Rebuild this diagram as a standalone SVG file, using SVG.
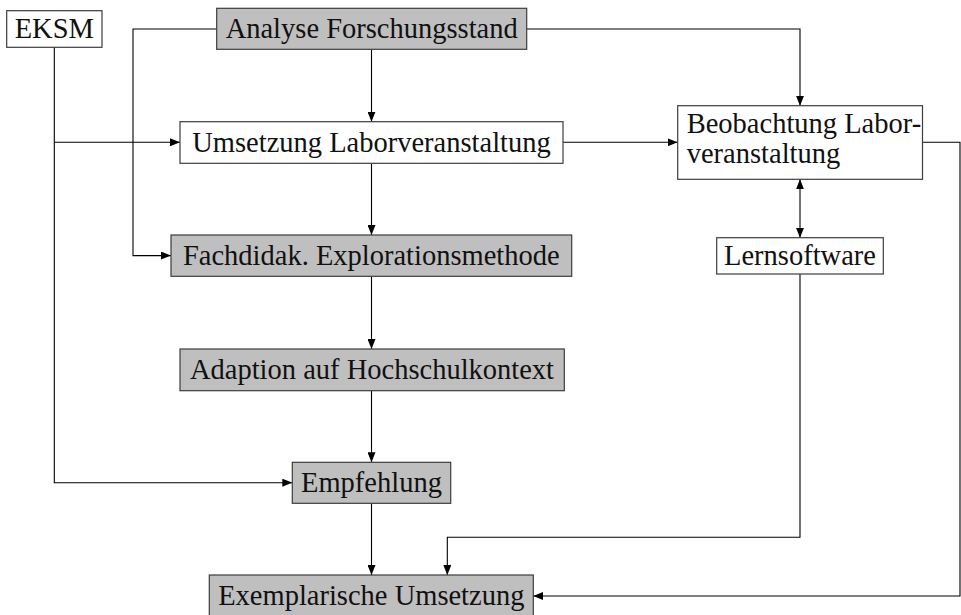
<svg xmlns="http://www.w3.org/2000/svg" width="961" height="615" viewBox="0 0 961 615">
  <style>
    .box { stroke: #3c3c3c; stroke-width: 1.2; }
    .white { fill: #ffffff; }
    .gray { fill: #bfbfbf; }
    .lbl { font-family: "Liberation Serif", "DejaVu Serif", serif; font-size: 28.5px; fill: #111111; }
    .mid { text-anchor: middle; }
    .wire { fill: none; stroke: #000000; stroke-width: 1.1; }
    .arr { marker-end: url(#tip); }
  </style>
  <defs>
    <marker id="tip" viewBox="0 0 10 8" refX="10" refY="4" markerWidth="10" markerHeight="8" markerUnits="userSpaceOnUse" orient="auto">
      <path d="M0,0 L10,4 L0,8 Z" fill="#000000"/>
    </marker>
    <marker id="tail" viewBox="0 0 10 8" refX="10" refY="4" markerWidth="10" markerHeight="8" markerUnits="userSpaceOnUse" orient="auto-start-reverse">
      <path d="M0,0 L10,4 L0,8 Z" fill="#000000"/>
    </marker>
  </defs>
  <rect width="961" height="615" fill="#ffffff"/>

  <g id="connectors">
    <!-- EKSM trunk down to Empfehlung, branch to Umsetzung -->
    <path class="wire arr" d="M54.3,47.3 V482.7 H292.3"/>
    <path class="wire arr" d="M54.3,142.3 H180"/>
    <!-- Analyse Forschungsstand outputs -->
    <path class="wire arr" d="M216.7,29 H133 V255.6 H171"/>
    <path class="wire arr" d="M371.5,49.3 V121.7"/>
    <path class="wire arr" d="M526.7,29 H800 V105.7"/>
    <!-- main column -->
    <path class="wire arr" d="M563,142.3 H677.7"/>
    <path class="wire arr" d="M371.5,163.3 V235"/>
    <path class="wire arr" d="M371.5,276.3 V349"/>
    <path class="wire arr" d="M371.5,390.7 V462.3"/>
    <path class="wire arr" d="M371.5,503.3 V575"/>
    <!-- Beobachtung and Lernsoftware -->
    <path class="wire" d="M800,179.3 V237.7" marker-start="url(#tail)" marker-end="url(#tip)"/>
    <path class="wire arr" d="M800,274 V537.3 H447.3 V575"/>
    <path class="wire arr" d="M922.5,142.3 H960 V596 H533.3"/>
  </g>

  <g id="eksm">
    <rect class="box white" x="6.7" y="10.7" width="95.3" height="36.6"/>
    <text class="lbl mid" x="54.3" y="38.3">EKSM</text>
  </g>
  <g id="analyse">
    <rect class="box gray" x="216.7" y="8.3" width="310" height="41"/>
    <text class="lbl mid" x="371.7" y="38">Analyse Forschungsstand</text>
  </g>
  <g id="umsetzung">
    <rect class="box white" x="180" y="121.7" width="383" height="41.6"/>
    <text class="lbl mid" x="371.5" y="151.7">Umsetzung Laborveranstaltung</text>
  </g>
  <g id="beobachtung">
    <rect class="box white" x="677.7" y="105.7" width="244.8" height="73.6"/>
    <text class="lbl" x="686.7" y="133.3">Beobachtung Labor-</text>
    <text class="lbl" x="686.7" y="163.3">veranstaltung</text>
  </g>
  <g id="fachdidak">
    <rect class="box gray" x="171" y="235" width="400.7" height="41.3"/>
    <text class="lbl mid" x="371.3" y="264.8">Fachdidak. Explorationsmethode</text>
  </g>
  <g id="lernsoftware">
    <rect class="box white" x="716.7" y="237.7" width="166.6" height="36.3"/>
    <text class="lbl mid" x="800" y="265">Lernsoftware</text>
  </g>
  <g id="adaption">
    <rect class="box gray" x="180" y="349" width="384.3" height="41.7"/>
    <text class="lbl mid" x="372" y="379.2">Adaption auf Hochschulkontext</text>
  </g>
  <g id="empfehlung">
    <rect class="box gray" x="292.3" y="462.3" width="158.4" height="41"/>
    <text class="lbl mid" x="371.5" y="492">Empfehlung</text>
  </g>
  <g id="exemplarisch">
    <rect class="box gray" x="209.3" y="575" width="324" height="42"/>
    <text class="lbl mid" x="371.3" y="605.2">Exemplarische Umsetzung</text>
  </g>
</svg>
